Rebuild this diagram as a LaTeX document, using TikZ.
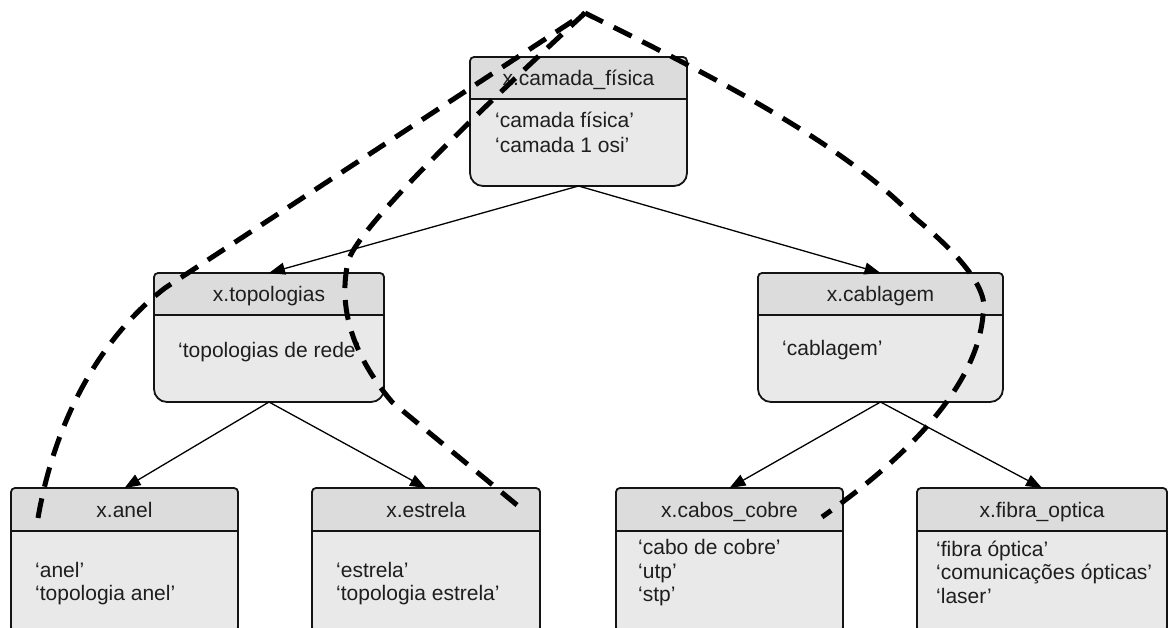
\documentclass[tikz,border=0pt]{standalone}
\usepackage{fontspec}
\setmainfont{Liberation Sans}
\usetikzlibrary{arrows.meta,fit}

\definecolor{headfill}{RGB}{220,220,220}
\definecolor{bodyfill}{RGB}{233,233,233}
\definecolor{ink}{RGB}{30,30,30}
\definecolor{edge}{RGB}{20,20,20}

\tikzset{
  boxarea/.style={inner sep=0pt, outer sep=0pt, draw=none},
  boxline/.style={draw=edge, line width=1.8pt},
  titletext/.style={anchor=base, inner sep=0pt, text=ink,
    font=\fontsize{21pt}{25pt}\selectfont},
  bodytext/.style={anchor=base west, inner sep=0pt, text=ink,
    font=\fontsize{21pt}{25pt}\selectfont},
  link/.style={draw=black, line width=1.3pt,
    -{Triangle[length=16pt, width=12pt]}},
  trace/.style={draw=black, line width=5pt, dash pattern=on 20pt off 12pt}
}

% Class box: #1 name, #2 left, #3 top, #4 right, #5 header bottom, #6 bottom, #7 title
\newcommand\classbox[7]{%
  \node[boxarea, fit={(#2,#3) (#4,#6)}] (#1) {};
  \fill[bodyfill] (#2,#5) [rounded corners=13pt] -- (#2,#6) -- (#4,#6) -- (#4,#5)
    [rounded corners=4pt] -- (#4,#3) -- (#2,#3) -- cycle;
  \begin{scope}
    \clip (#2,#3) rectangle (#4,#5);
    \fill[headfill] (#2,#5) [rounded corners=13pt] -- (#2,#6) -- (#4,#6) -- (#4,#5)
      [rounded corners=4pt] -- (#4,#3) -- (#2,#3) -- cycle;
  \end{scope}
  \draw[boxline] (#2,#5) -- (#4,#5);
  \draw[boxline] (#2,#5) [rounded corners=13pt] -- (#2,#6) -- (#4,#6) -- (#4,#5)
    [rounded corners=4pt] -- (#4,#3) -- (#2,#3) -- cycle;
  \node[titletext] (#1-title) at ({(#2+#4)/2},{#5-13.5}) {#7};
}

\begin{document}
\begin{tikzpicture}[x=1pt, y=-1pt]
  \useasboundingbox (0,0) rectangle (1169,628);
  \clip (0,0) rectangle (1169,628);

  % classes
  \classbox{camada}{470}{57}{687}{99}{186}{x.camada\_física}
  \classbox{topologias}{154}{273}{384}{315}{402}{x.topologias}
  \classbox{cablagem}{758}{273}{1003}{315}{402}{x.cablagem}
  \classbox{anel}{11}{488}{238}{531}{640}{x.anel}
  \classbox{estrela}{312}{488}{540}{531}{640}{x.estrela}
  \classbox{cabos}{616}{488}{843}{531}{640}{x.cabos\_cobre}
  \classbox{fibra}{917}{488}{1167}{531}{640}{x.fibra\_optica}

  % attribute lines
  \node[bodytext] (camada-l1) at (495,128) {‘camada física’};
  \node[bodytext] (camada-l2) at (495,153) {‘camada 1 osi’};
  \node[bodytext] (topologias-l1) at (178,357) {‘topologias de rede’};
  \node[bodytext] (cablagem-l1) at (782,355) {‘cablagem’};
  \node[bodytext] (anel-l1) at (35,577) {‘anel’};
  \node[bodytext] (anel-l2) at (35,600) {‘topologia anel’};
  \node[bodytext] (estrela-l1) at (336,577) {‘estrela’};
  \node[bodytext] (estrela-l2) at (336,600) {‘topologia estrela’};
  \node[bodytext] (cabos-l1) at (638,554) {‘cabo de cobre’};
  \node[bodytext] (cabos-l2) at (638,578) {‘utp’};
  \node[bodytext] (cabos-l3) at (638,601) {‘stp’};
  \node[bodytext] (fibra-l1) at (936,556) {‘fibra óptica’};
  \node[bodytext] (fibra-l2) at (936,579.5) {‘comunicações ópticas’};
  \node[bodytext] (fibra-l3) at (936,603) {‘laser’};

  % hierarchy
  \draw[link] (camada.south) -- (topologias.north);
  \draw[link] (camada.south) -- (cablagem.north);
  \draw[link] (topologias.south) -- (anel.north);
  \draw[link] (topologias.south) -- (estrela.north);
  \draw[link] (cablagem.south) -- (cabos.north);
  \draw[link] (cablagem.south) -- (fibra.north);

  % dashed traces
  \coordinate (apex) at (585,13);
  \coordinate (anel-end) at (38,518);
  \coordinate (estrela-end) at (517,505);
  \coordinate (cabos-end) at (822,517);
  \draw[trace] (anel-end) .. controls (55,420) and (100,338) .. (165,288) -- (apex);
  \draw[trace] (estrela-end) -- (392,402)
    .. controls (365,370) and (335,320) .. (348,262)
    .. controls (355,230) and (480,110) .. (apex);
  \draw[trace] (apex) .. controls (700,70) and (840,140) .. (915,218)
    .. controls (960,255) and (990,290) .. (983,315)
    .. controls (977,385) and (910,455) .. (cabos-end);
\end{tikzpicture}
\end{document}
